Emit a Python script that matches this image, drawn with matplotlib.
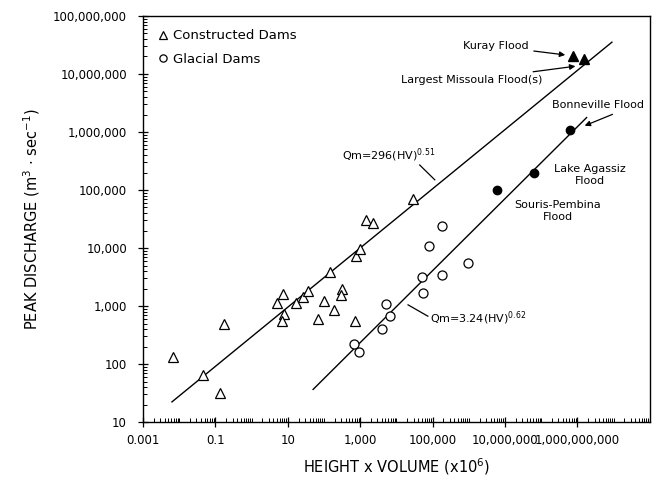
import matplotlib
matplotlib.use("Agg")
import matplotlib.pyplot as plt
import numpy as np
from matplotlib.ticker import FixedLocator, FuncFormatter, NullFormatter

# constructed dams (open triangles)
con_hv = [0.0069, 0.045, 0.13, 0.17, 4.9, 7.5, 7.9, 6.8, 16.9, 27, 37, 147, 100,
          69, 190, 310, 290, 720, 760, 980, 1450, 2300, 28000]
con_q = [134, 65, 32, 500, 1150, 1620, 720, 560, 1110, 1450, 1820, 3880, 1230,
         610, 870, 2000, 1540, 550, 7300, 9600, 30000, 27500, 69000]

# glacial dams (open circles)
gla_hv = [1.8e5, 7.9e4, 9.3e5, 5.0e4, 1.8e5, 5.4e4, 5100, 6600, 3900, 680, 930]
gla_q = [24000, 10800, 5500, 3200, 3400, 1660, 1070, 680, 400, 220, 163]

# big floods
kuray_hv, kuray_q = [7.8e8, 1.5e9], [2.04e7, 1.78e7]       # Kuray + Missoula
ice_hv = [6.3e8, 6.4e7, 6.2e6]                              # Bonneville, Agassiz, Souris-Pembina
ice_q = [1.07e6, 2.0e5, 1.0e5]

# regression lines  Qm = a (HV)^b
upper_a, upper_b, upper_range = 296, 0.51, (0.0063, 9e9)
lower_a, lower_b, lower_range = 3.24, 0.62, (50, 1.8e9)

fig = plt.figure(figsize=(6.59, 4.83), dpi=100)
ax = fig.add_axes([0.217, 0.126, 0.769, 0.841])
ax.set_xscale("log")
ax.set_yscale("log")

# lines
x_up = np.array(upper_range)
ax.plot(x_up, upper_a * x_up ** upper_b, c="k", lw=1)
x_lo = np.array(lower_range)
ax.plot(x_lo, lower_a * x_lo ** lower_b, c="k", lw=1)

# points
ax.plot(con_hv, con_q, "^", ms=7, mfc="white", mec="k", mew=0.9, ls="none",
        label="Constructed Dams")
ax.plot(gla_hv, gla_q, "o", ms=6.5, mfc="white", mec="k", mew=0.9, ls="none",
        label="Glacial Dams")
ax.plot(kuray_hv, kuray_q, "^", ms=6.5, c="k", ls="none")
ax.plot(ice_hv, ice_q, "o", ms=6, c="k", ls="none")

ax.set_xlim(1e-3, 1e11)
ax.set_ylim(10, 1e8)

# labels on floods
arrow = dict(arrowstyle="-|>", color="k", lw=0.9, mutation_scale=8)
ax.annotate("Kuray Flood", xy=(5.5e8, 2.1e7), xytext=(4.4e7, 3.0e7),
            ha="right", va="center", fontsize=8, arrowprops=arrow)
ax.annotate("Largest Missoula Flood(s)", xy=(1.05e9, 1.38e7), xytext=(1.05e8, 7.9e6),
            ha="right", va="center", fontsize=8, arrowprops=arrow)
ax.text(3.7e9, 2.95e6, "Bonneville Flood", ha="center", va="center", fontsize=8)
ax.annotate("", xy=(1.35e9, 1.23e6), xytext=(1.1e10, 2.1e6), arrowprops=arrow)
ax.text(2.2e9, 1.8e5, "Lake Agassiz\nFlood", ha="center", va="center", fontsize=8,
        linespacing=1.2)
ax.text(2.9e8, 4.4e4, "Souris-Pembina\nFlood", ha="center", va="center", fontsize=8,
        linespacing=1.2)

# equations
ax.text(320, 4.0e5, r"Qm=296(HV)$^{0.51}$", ha="left", va="center", fontsize=8)
ax.plot([4.4e4, 1.15e5], [2.7e5, 1.5e5], c="k", lw=0.9)
ax.text(8.5e4, 620, r"Qm=3.24(HV)$^{0.62}$", ha="left", va="center", fontsize=8)
ax.plot([2.1e4, 7.4e4], [1050, 670], c="k", lw=0.9)

# ticks
def fmt(v, pos):
    if v < 1:
        return f"{v:g}"
    return f"{v:,.0f}"

xmaj = 10.0 ** np.arange(-3, 11, 2)
xmin = [k * 10.0 ** d for d in range(-3, 11) for k in range(1, 10)]
xmin = [v for v in xmin if not np.any(np.isclose(v, xmaj))]
ax.xaxis.set_major_locator(FixedLocator(xmaj))
ax.xaxis.set_minor_locator(FixedLocator(xmin))
ax.xaxis.set_major_formatter(FuncFormatter(fmt))
ax.xaxis.set_minor_formatter(NullFormatter())

ymaj = 10.0 ** np.arange(1, 9)
ymin = [k * 10.0 ** d for d in range(1, 8) for k in range(2, 10)]
ax.yaxis.set_major_locator(FixedLocator(ymaj))
ax.yaxis.set_minor_locator(FixedLocator(ymin))
ax.yaxis.set_major_formatter(FuncFormatter(fmt))
ax.yaxis.set_minor_formatter(NullFormatter())

ax.tick_params(which="major", direction="inout", length=7, width=0.9, labelsize=8.5)
ax.tick_params(which="minor", direction="in", length=3, width=0.7)
ax.tick_params(axis="x", which="major", pad=5)
ax.tick_params(axis="y", which="major", pad=8)
for s in ax.spines.values():
    s.set_linewidth(1)

ax.set_xlabel(r"HEIGHT x VOLUME (x10$^6$)", fontsize=10.5, labelpad=7)
ax.set_ylabel(r"PEAK DISCHARGE (m$^3$ $\cdot$ sec$^{-1}$)", fontsize=10.5, labelpad=8)

ax.legend(loc="upper left", frameon=False, fontsize=9.5, handletextpad=0.3,
          markerscale=0.8, borderaxespad=0.6, labelspacing=0.8, handlelength=1.0)

plt.savefig("out.png", dpi=100)
